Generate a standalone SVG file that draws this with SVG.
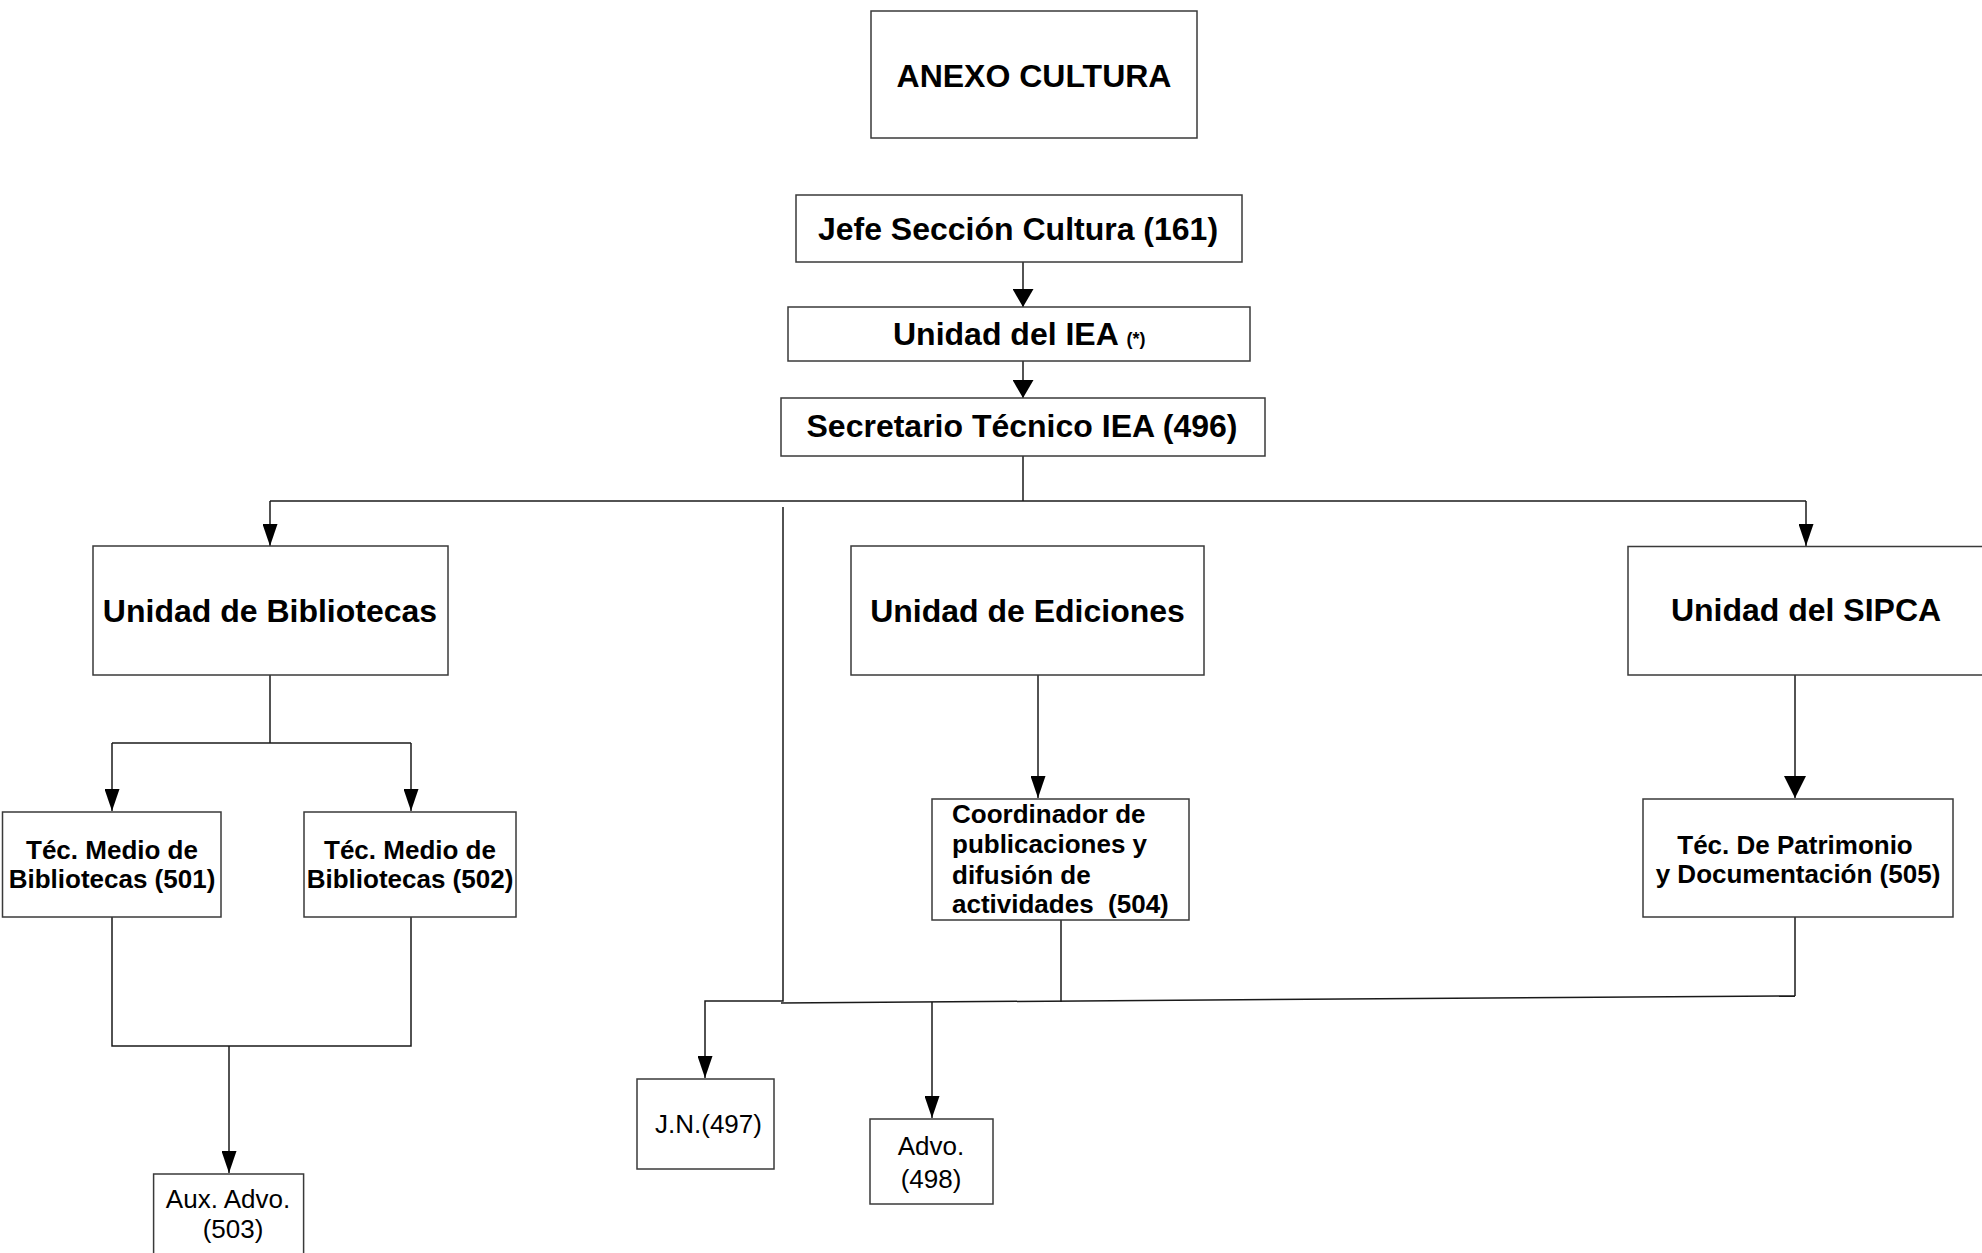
<svg xmlns="http://www.w3.org/2000/svg" width="1982" height="1253" viewBox="0 0 1982 1253">
<style>
.box{fill:#fff;stroke:#3a3a3a;stroke-width:1.5}
.t{font-family:"Liberation Sans",Arial,sans-serif;fill:#000}
.b{font-weight:bold}
.c{text-anchor:middle}
.ln{fill:none;stroke:#1a1a1a;stroke-width:1.5}
</style>
<defs>
<marker id="aA" viewBox="0 0 22 15" refX="22" refY="7.5" markerWidth="22" markerHeight="15" markerUnits="userSpaceOnUse" orient="auto"><path d="M0,0 L22,7.5 L0,15 z" fill="#000"/></marker>
<marker id="aB" viewBox="0 0 18 21" refX="18" refY="10.5" markerWidth="18" markerHeight="21" markerUnits="userSpaceOnUse" orient="auto"><path d="M0,0 L18,10.5 L0,21 z" fill="#000"/></marker>
<marker id="aC" viewBox="0 0 22 22" refX="22" refY="11" markerWidth="22" markerHeight="22" markerUnits="userSpaceOnUse" orient="auto"><path d="M0,0 L22,11 L0,22 z" fill="#000"/></marker>
</defs>
<rect width="1982" height="1253" fill="#fff"/>
<g id="connectors">
<path class="ln" d="M1023,262 V307" marker-end="url(#aB)"/>
<path class="ln" d="M1023,361 V398" marker-end="url(#aB)"/>
<path class="ln" d="M1023,456 V501"/>
<path class="ln" d="M270,501 H1806"/>
<path class="ln" d="M270,501 V546" marker-end="url(#aA)"/>
<path class="ln" d="M1806,501 V546" marker-end="url(#aA)"/>
<path class="ln" d="M783,507 V1001 H705 V1078" marker-end="url(#aA)"/>
<path class="ln" d="M270,675 V743"/>
<path class="ln" d="M112,743 H411"/>
<path class="ln" d="M112,743 V811" marker-end="url(#aA)"/>
<path class="ln" d="M411,743 V811" marker-end="url(#aA)"/>
<path class="ln" d="M112,917 V1046 H411 V917"/>
<path class="ln" d="M229,1046 V1173" marker-end="url(#aA)"/>
<path class="ln" d="M1038,675 V798" marker-end="url(#aA)"/>
<path class="ln" d="M1795,675 V798" marker-end="url(#aC)"/>
<path class="ln" d="M1061,920 V1002"/>
<path class="ln" d="M1795,917 V996"/>
<path class="ln" d="M781,1003 L1795,996"/>
<path class="ln" d="M932,1002 V1118" marker-end="url(#aA)"/>
</g>
<g id="anexo">
<rect class="box" x="871" y="11" width="326" height="127"/>
<text class="t b c" x="1034" y="87" font-size="32">ANEXO CULTURA</text>
</g>
<g id="jefe">
<rect class="box" x="796" y="195" width="446" height="67"/>
<text class="t b c" x="1018" y="240" font-size="32">Jefe Sección Cultura (161)</text>
</g>
<g id="iea">
<rect class="box" x="788" y="307" width="462" height="54"/>
<text class="t b" x="893" y="345" font-size="32">Unidad del IEA <tspan font-size="18">(*)</tspan></text>
</g>
<g id="secretario">
<rect class="box" x="781" y="398" width="484" height="58"/>
<text class="t b c" x="1022" y="437" font-size="32">Secretario Técnico IEA (496)</text>
</g>
<g id="bibliotecas">
<rect class="box" x="93" y="546" width="355" height="129"/>
<text class="t b c" x="270" y="622" font-size="32">Unidad de Bibliotecas</text>
</g>
<g id="tm501">
<rect class="box" x="2.5" y="812" width="218.5" height="105"/>
<text class="t b c" x="112" y="859" font-size="26">Téc. Medio de</text>
<text class="t b c" x="112" y="888" font-size="26">Bibliotecas (501)</text>
</g>
<g id="tm502">
<rect class="box" x="304" y="812" width="212" height="105"/>
<text class="t b c" x="410" y="859" font-size="26">Téc. Medio de</text>
<text class="t b c" x="410" y="888" font-size="26">Bibliotecas (502)</text>
</g>
<g id="aux503">
<rect class="box" x="153.6" y="1174" width="150" height="82"/>
<text class="t c" x="228" y="1208" font-size="26">Aux. Advo.</text>
<text class="t c" x="233" y="1238" font-size="26">(503)</text>
</g>
<g id="ediciones">
<rect class="box" x="851" y="546" width="353" height="129"/>
<text class="t b c" x="1027.5" y="622" font-size="32">Unidad de Ediciones</text>
</g>
<g id="coord504">
<rect class="box" x="932" y="799" width="257" height="121"/>
<text class="t b" x="952" y="823" font-size="26">Coordinador de</text>
<text class="t b" x="952" y="853" font-size="26">publicaciones y</text>
<text class="t b" x="952" y="884" font-size="26">difusión de</text>
<text class="t b" x="952" y="913" font-size="26" xml:space="preserve">actividades  (504)</text>
</g>
<g id="jn497">
<rect class="box" x="637" y="1079" width="137" height="90"/>
<text class="t" x="655" y="1133" font-size="26">J.N.(497)</text>
</g>
<g id="advo498">
<rect class="box" x="870" y="1119" width="123" height="85"/>
<text class="t c" x="931" y="1155" font-size="26">Advo.</text>
<text class="t c" x="931" y="1188" font-size="26">(498)</text>
</g>
<g id="sipca">
<rect class="box" x="1628" y="546.5" width="356" height="128.5"/>
<text class="t b c" x="1806" y="621" font-size="32">Unidad del SIPCA</text>
</g>
<g id="tp505">
<rect class="box" x="1643" y="799" width="310" height="118"/>
<text class="t b c" x="1795" y="854" font-size="26">Téc. De Patrimonio</text>
<text class="t b c" x="1798" y="883" font-size="26">y Documentación (505)</text>
</g>
</svg>
